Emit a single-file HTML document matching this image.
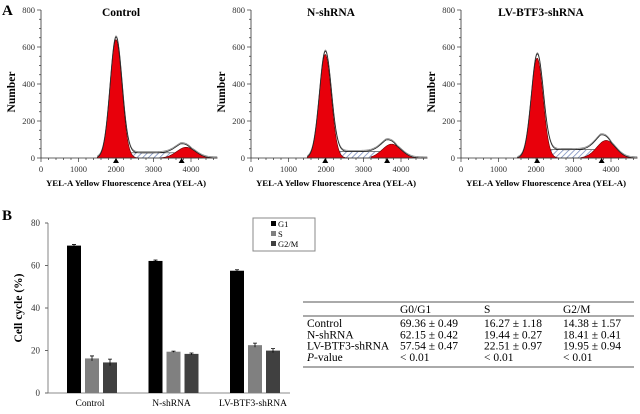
<!DOCTYPE html>
<html><head><meta charset="utf-8"><style>
body{margin:0;background:#fff;}
svg{display:block;font-family:"Liberation Serif",serif;}
</style></head><body>
<svg id="fig" width="640" height="414" viewBox="0 0 640 414">
<defs>
<pattern id="hatch" width="4" height="4" patternUnits="userSpaceOnUse" patternTransform="rotate(45)">
<rect width="4" height="4" fill="#fff"/><line x1="0" y1="0" x2="0" y2="4" stroke="#6a7fb8" stroke-width="1.4"/></pattern>
</defs>
<text x="2" y="15" font-size="15" font-weight="bold">A</text>
<text x="2" y="220" font-size="15" font-weight="bold">B</text>
<g id="hists"></g>
<g id="bars"></g>
<g id="table" font-size="11.5">
<line x1="303" y1="302" x2="634" y2="302" stroke="#555"/>
<line x1="303" y1="316" x2="634" y2="316" stroke="#555"/>
<line x1="303" y1="367" x2="634" y2="367" stroke="#555"/>
</g>
</svg>
<script>
const NS="http://www.w3.org/2000/svg";
function mk(tag,attrs,parent,txt){const e=document.createElementNS(NS,tag);for(const k in attrs)e.setAttribute(k,attrs[k]);if(txt!==undefined)e.textContent=txt;parent.appendChild(e);return e;}

// Histogram data
const histTitles=["Control","N-shRNA","LV-BTF3-shRNA"];
const g1Heights=[640,560,540];
const g1Means=[2000,1980,2030];
const g2Heights=[58,75,95];
const g2Means=[3870,3750,3870];
const sLevels=[28,35,45];
const xTicks=[0,1000,2000,3000,4000];
const yTicks=[0,200,400,600,800];

const H=document.getElementById('hists');
histTitles.forEach((t,i)=>{
  const ox=41+i*210, y0=158, yTop=10;
  const xs=v=>ox+v*0.0375, ys=v=>y0-v*(y0-yTop)/800;
  const g=mk('g',{},H);
  
  
  const t1=mk('text',{x:ox+80,y:16,'font-size':11.5,'font-weight':'bold','text-anchor':'middle'},g,t);
  
  
  const gauss=(x,h,m,s)=>h*Math.exp(-0.5*((x-m)/s)**2);
  const sPart=x=>{const a=g1Means[i]+150,b=g2Means[i]-150;if(x<a)return sLevels[i]*Math.max(0,1-(a-x)/300);if(x>b)return sLevels[i]*Math.max(0,1-(x-b)/300);return sLevels[i];};
  let pG1=`M${xs(1500)},${ys(0)}`,pG2=`M${xs(3200)},${ys(0)}`,pS=`M${xs(1900)},${ys(0)}`,env='',env2='';
  for(let x=1500;x<=4700;x+=20){
    const a=gauss(x,g1Heights[i],g1Means[i],160),b=gauss(x,g2Heights[i],g2Means[i],250),s=sPart(x);
    if(x<=2600)pG1+=` L${xs(x)},${ys(a)}`;
    if(x>=3200)pG2+=` L${xs(x)},${ys(b)}`;
    if(x>=1900&&x<=4300)pS+=` L${xs(x)},${ys(s)}`;
    env+=(env?' L':'M')+`${xs(x)},${ys(a+b+s)}`;
    env2+=(env2?' L':'M')+`${xs(x)},${ys(a+b+s+6)}`;
  }
  pG1+=` L${xs(2600)},${ys(0)} Z`;pG2+=` L${xs(4700)},${ys(0)} Z`;pS+=` L${xs(4300)},${ys(0)} Z`;
  const e1=mk('path',{d:pS,fill:'url(#hatch)',stroke:'#333','stroke-width':0.6},g);
  
  const e2=mk('path',{d:pG1,fill:'#e8000b',stroke:'#600','stroke-width':0.6},g);
  
  const e3=mk('path',{d:pG2,fill:'#e8000b',stroke:'#600','stroke-width':0.6},g);
  
  const e4=mk('path',{d:env2,fill:'none',stroke:'#888','stroke-width':0.8},g);
  
  const e5=mk('path',{d:env,fill:'none',stroke:'#222','stroke-width':0.8},g);
  
  const ax=mk('path',{d:`M${ox},${yTop} V${y0} H${xs(4700)}`,fill:'none',stroke:'#333','stroke-width':0.8},g);
  
  for(let v=0;v<=800;v+=50){const l=mk('line',{x1:ox-(v%200?2:4),x2:ox,y1:ys(v),y2:ys(v),stroke:'#333','stroke-width':0.7},g);}
  for(let v=0;v<=4600;v+=200){const l=mk('line',{x1:xs(v),x2:xs(v),y1:y0,y2:y0+(v%1000?2:4),stroke:'#333','stroke-width':0.7},g);}
  yTicks.forEach(v=>{const l=mk('text',{x:ox-6,y:ys(v)+3,'font-size':8.5,'text-anchor':'end',fill:'#333'},g,v);});
  xTicks.forEach(v=>{const l=mk('text',{x:xs(v),y:y0+14,'font-size':8.5,'text-anchor':'middle',fill:'#333'},g,v);});
  [g1Means[i],g2Means[i]-120].forEach(m=>{const p=mk('path',{d:`M${xs(m)-3},${y0+5} L${xs(m)},${y0} L${xs(m)+3},${y0+5}Z`,fill:'#000'},g);});
  const yl=mk('text',{transform:`translate(${ox-26},${(y0+yTop)/2+8}) rotate(-90)`,'font-size':11.5,'font-weight':'bold','text-anchor':'middle'},g,'Number');
  
  const xl=mk('text',{x:ox+85,y:186,'font-size':8.8,'font-weight':'bold','text-anchor':'middle'},g,'YEL-A Yellow Fluorescence Area (YEL-A)');
  
});

// Bar chart data
const categories=["Control","N-shRNA","LV-BTF3-shRNA"];
const seriesNames=["G1","S","G2/M"];
const g1Vals=[69.36,62.15,57.54];
const sVals=[16.27,19.44,22.51];
const g2mVals=[14.38,18.41,19.95];
const g1Err=[0.49,0.42,0.47];
const sErr=[1.18,0.27,0.97];
const g2mErr=[1.57,0.41,0.94];
const barTicks=[0,20,40,60,80];
const colors=["#000","#808080","#404040"];
const B=document.getElementById('bars');
const bx0=48,by0=393,byTop=223;
const bys=v=>by0-v*(by0-byTop)/80;
const series=[g1Vals,sVals,g2mVals],errs=[g1Err,sErr,g2mErr];
const baxis=mk('path',{d:`M${bx0},${byTop} V${by0} H290`,fill:'none',stroke:'#666','stroke-width':0.8},B);

barTicks.forEach(v=>{
  const l=mk('line',{x1:bx0-3,x2:bx0,y1:bys(v),y2:bys(v),stroke:'#666'},B);
  const t=mk('text',{x:bx0-8,y:bys(v)+3,'font-size':9,'text-anchor':'end',fill:'#333'},B,v);
});
categories.forEach((c,ci)=>{
  const cx=90+ci*81.5;
  series.forEach((s,si)=>{
    const x=cx-23+si*18;
    const r=mk('rect',{x:x,y:bys(s[ci]),width:14,height:by0-bys(s[ci]),fill:colors[si]},B);
    
    
    const e=mk('path',{d:`M${x+7},${bys(s[ci]-errs[si][ci])} V${bys(s[ci]+errs[si][ci])} M${x+5},${bys(s[ci]+errs[si][ci])} h4`,stroke:'#000','stroke-width':0.8,fill:'none'},B);
    
  });
  const t=mk('text',{x:cx,y:406,'font-size':9.5,'text-anchor':'middle'},B,c);
  
});
const yt=mk('text',{transform:`translate(22,${(by0+byTop)/2}) rotate(-90)`,'font-size':11.5,'font-weight':'bold','text-anchor':'middle'},B,'Cell cycle (%)');

const lg=mk('g',{},B);
mk('rect',{x:253,y:218,width:62,height:33,fill:'#fff',stroke:'#888'},lg);
seriesNames.forEach((n,i)=>{
  const r=mk('rect',{x:271,y:221+i*10,width:5,height:5,fill:colors[i]},lg);
  const t=mk('text',{x:278,y:227+i*10,'font-size':8.5},lg,n);
});

// Table
const T=document.getElementById('table');
const headers=["G0/G1","S","G2/M"];
const colX=[400,484,563];
const rowLabels=["Control","N-shRNA","LV-BTF3-shRNA"];
headers.forEach((h,i)=>{const t=mk('text',{x:colX[i],y:313},T,h);});
rowLabels.forEach((r,ri)=>{
  const y=327+ri*11.3;
  const t=mk('text',{x:307,y:y},T,r);
  series.forEach((s,si)=>{const c=mk('text',{x:colX[si],y:y},T,s[ri].toFixed(2)+' ± '+errs[si][ri].toFixed(2));});
});
const pl=mk('text',{x:307,y:361},T);
mk('tspan',{'font-style':'italic'},pl,'P');mk('tspan',{},pl,'-value');
colX.forEach(x=>{const c=mk('text',{x:x,y:361},T,'< 0.01');});
</script>
</body></html>
